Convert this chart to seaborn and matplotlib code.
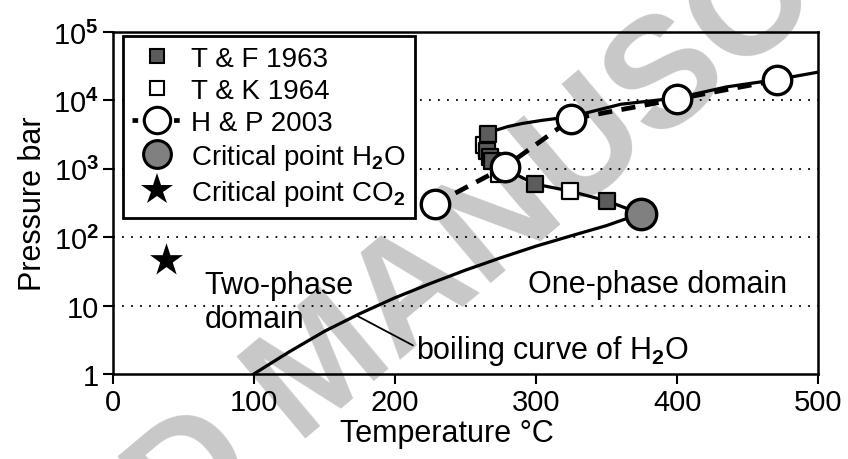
import numpy as np
import pandas as pd
import matplotlib
matplotlib.use('Agg')
import matplotlib.pyplot as plt
from matplotlib.lines import Line2D
import seaborn as sns

# data
boil_T = [100, 125, 150, 175, 200, 225, 250, 275, 300, 325, 350, 374]
boil_P = [1.0, 2.1, 4.2, 7.6, 13.0, 21.0, 33.0, 50.0, 74.0, 105.0, 148.0, 221.0]

crit_T = [374, 350, 324, 299, 276, 269, 265, 264, 266, 272, 280, 290, 305, 325, 360, 400, 435, 471, 500]
crit_P = [221, 340, 473, 600, 1050, 1300, 1800, 2500, 3240, 3700, 4150, 4600, 5150, 5800, 8800, 10900, 15800, 20300, 26000]

tf_T = [266, 265, 267, 269, 276, 299, 350]
tf_P = [3240, 1820, 1500, 1300, 1100, 600, 340]

tk_T = [263, 274, 324]
tk_P = [2200, 840, 473]

hp_T = [228, 278, 325, 400, 471]
hp_P = [305, 1070, 5350, 10500, 19900]

h2o_T, h2o_P = [374], [221]
co2_T, co2_P = [38], [46]

y_ticks = [1, 10, 100, 1000, 10000, 100000]
y_labels = ['1', '10', r'10$^\mathbf{2}$', r'10$^\mathbf{3}$', r'10$^\mathbf{4}$', r'10$^\mathbf{5}$']
x_ticks = [0, 100, 200, 300, 400, 500]

sns.set_theme(style='white')
plt.rcParams['font.family'] = ['Liberation Sans', 'DejaVu Sans']
plt.rcParams['text.color'] = 'black'
plt.rcParams['axes.labelcolor'] = 'black'
plt.rcParams['xtick.color'] = 'black'
plt.rcParams['ytick.color'] = 'black'
plt.rcParams['mathtext.fontset'] = 'custom'
plt.rcParams['mathtext.rm'] = 'Liberation Sans'
plt.rcParams['mathtext.bf'] = 'Liberation Sans:bold'
plt.rcParams['mathtext.it'] = 'Liberation Sans:italic'

fig = plt.figure(figsize=(8.48, 4.6), dpi=100)
ax = fig.add_axes([0.133, 0.185, 0.832, 0.743])

# watermark
ax.text(0.383, 0.196, 'ACCEPTED MANUSCRIPT', transform=fig.transFigure, fontsize=112,
        fontweight='bold', color='#c8c8c8', rotation=40, ha='center', va='center',
        rotation_mode='anchor', clip_on=False, zorder=0.5)

for y in [10, 100, 1000, 10000]:
    ax.axhline(y, color='black', lw=1.3, ls=(0, (1, 4)), zorder=1)

boil = pd.DataFrame({'T': boil_T, 'P': boil_P})
crit = pd.DataFrame({'T': crit_T, 'P': crit_P})
hp = pd.DataFrame({'T': hp_T, 'P': hp_P})

sns.lineplot(data=boil, x='T', y='P', ax=ax, color='black', lw=2.3, sort=False,
             estimator=None, zorder=2)
sns.lineplot(data=crit, x='T', y='P', ax=ax, color='black', lw=2.3, sort=False,
             estimator=None, zorder=2)
sns.lineplot(data=hp, x='T', y='P', ax=ax, color='black', lw=3.4, sort=False,
             estimator=None, zorder=2, dashes=False, linestyle=(0, (3, 2)))

sns.scatterplot(x=tk_T, y=tk_P, ax=ax, marker='s', s=120, color='white',
                edgecolor='black', linewidth=1.6, zorder=3)
sns.scatterplot(x=tf_T, y=tf_P, ax=ax, marker='s', s=120, color='#5c5c5c',
                edgecolor='black', linewidth=1.6, zorder=4)
sns.scatterplot(x=hp_T, y=hp_P, ax=ax, marker='o', s=420, color='white',
                edgecolor='black', linewidth=2.4, zorder=5)
sns.scatterplot(x=h2o_T, y=h2o_P, ax=ax, marker='o', s=480, color='#808080',
                edgecolor='black', linewidth=2.4, zorder=5)
sns.scatterplot(x=co2_T, y=co2_P, ax=ax, marker='*', s=620, color='black',
                edgecolor='black', linewidth=0, zorder=5)

ax.set_yscale('log')
ax.set_xlim(0, 500)
ax.set_ylim(1, 100000)
ax.set_xticks(x_ticks)
ax.set_yticks(y_ticks)
ax.set_yticklabels(y_labels)
ax.minorticks_off()
ax.tick_params(direction='out', length=7, width=1.5, labelsize=21,
               bottom=True, left=True, pad=3)
for sp in ax.spines.values():
    sp.set_visible(True)
    sp.set_color('black')
    sp.set_linewidth(1.8)
ax.set_xlabel('Temperature °C', fontsize=22, labelpad=1)
ax.xaxis.set_label_coords(0.474, -0.13)
ax.set_ylabel('Pressure bar', fontsize=22, labelpad=4)

ax.text(65, 11.3, 'Two-phase\ndomain', fontsize=22, ha='left', va='center',
        linespacing=1.2, zorder=6)
ax.text(294, 20.7, 'One-phase domain', fontsize=22, ha='left', va='center', zorder=6)
ax.annotate(r'boiling curve of H$_\mathbf{2}$O', xy=(173, 7.1), xytext=(215, 2.2),
            fontsize=22, ha='left', va='center', zorder=6,
            arrowprops=dict(arrowstyle='-', color='black', lw=1.3, shrinkA=0, shrinkB=0,
                            relpos=(0, 0.6)))

handles = [
    Line2D([], [], ls='none', marker='s', ms=10, mfc='#5c5c5c', mec='black', mew=1.5),
    Line2D([], [], ls='none', marker='s', ms=10, mfc='white', mec='black', mew=1.5),
    Line2D([], [], color='black', lw=3.4, ls=(0, (1.2, 1.0)), marker='o', ms=19,
           mfc='white', mec='black', mew=2.2),
    Line2D([], [], ls='none', marker='o', ms=20, mfc='#808080', mec='black', mew=2.2),
    Line2D([], [], ls='none', marker='*', ms=24, mfc='black', mec='black', mew=0),
]
labels = ['T & F 1963', 'T & K 1964', 'H & P 2003',
          r'Critical point H$_\mathbf{2}$O', r'Critical point CO$_\mathbf{2}$']
leg = ax.legend(handles, labels, loc='upper left', bbox_to_anchor=(0.014, 0.989),
                borderaxespad=0, fontsize=20, frameon=True, fancybox=False,
                framealpha=1, edgecolor='black', handlelength=1.8, handletextpad=0.3,
                labelspacing=0.22, borderpad=0.35)
leg.get_frame().set_linewidth(2)
leg.set_zorder(10)

fig.savefig('out.png', dpi=100)
